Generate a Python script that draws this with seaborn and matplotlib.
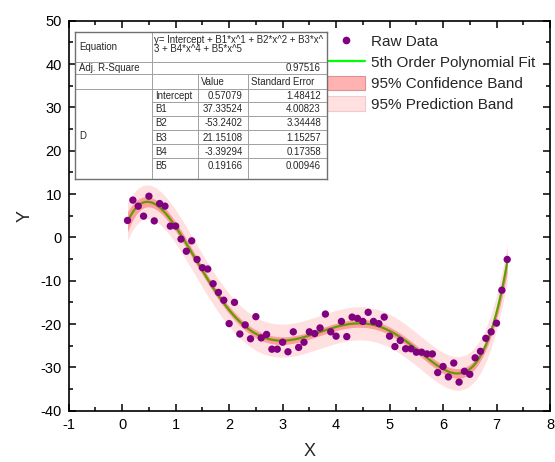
import numpy as np
import matplotlib
matplotlib.use("Agg")
import matplotlib.pyplot as plt
import seaborn as sns
from matplotlib.lines import Line2D
from matplotlib.patches import Patch
from matplotlib.ticker import MultipleLocator

x_raw = [0.1, 0.2, 0.3, 0.4, 0.5, 0.6, 0.7, 0.8, 0.9, 1.0,
         1.1, 1.2, 1.3, 1.4, 1.5, 1.6, 1.7, 1.8, 1.9, 2.0,
         2.1, 2.2, 2.3, 2.4, 2.5, 2.6, 2.7, 2.8, 2.9, 3.0,
         3.1, 3.2, 3.3, 3.4, 3.5, 3.6, 3.7, 3.8, 3.9, 4.0,
         4.1, 4.2, 4.3, 4.4, 4.5, 4.6, 4.7, 4.8, 4.9, 5.0,
         5.1, 5.2, 5.3, 5.4, 5.5, 5.6, 5.7, 5.8, 5.9, 6.0,
         6.1, 6.2, 6.3, 6.4, 6.5, 6.6, 6.7, 6.8, 6.9, 7.0,
         7.1, 7.2]
y_raw = [3.9, 8.6, 7.2, 4.9, 9.5, 3.8, 7.8, 7.2, 2.6, 2.6,
         -0.4, -3.2, -0.8, -5.1, -7.0, -7.3, -10.7, -12.7, -14.5, -19.9,
         -15.0, -22.3, -20.2, -23.4, -18.3, -23.2, -22.4, -25.8, -25.8, -24.2,
         -26.4, -21.8, -25.4, -24.2, -21.8, -22.2, -20.9, -17.7, -21.8, -22.8,
         -19.4, -22.9, -18.4, -18.7, -19.4, -17.3, -19.4, -19.9, -18.4, -22.8,
         -25.2, -23.8, -25.7, -25.7, -26.5, -26.5, -26.9, -26.9, -31.2, -29.8,
         -32.2, -29.0, -33.4, -30.9, -31.6, -27.8, -26.3, -23.3, -21.8, -19.8,
         -12.2, -5.1]

# text of the fit report table, as shown
param_names = ["Intercept", "B1", "B2", "B3", "B4", "B5"]
param_values = ["0.57079", "37.33524", "-53.2402", "21.15108", "-3.39294", "0.19166"]
param_errors = ["1.48412", "4.00823", "3.34448", "1.15257", "0.17358", "0.00946"]
equation_text = "y= Intercept + B1*x^1 + B2*x^2 + B3*x^\n3 + B4*x^4 + B5*x^5"
adj_r2_text = "0.97516"

legend_labels = ["Raw Data", "5th Order Polynomial Fit",
                 "95% Confidence Band", "95% Prediction Band"]

# polynomial fit + bands
x = np.array(x_raw)
y = np.array(y_raw)
deg = 5
X = np.vander(x, deg + 1, increasing=True)
beta, *_ = np.linalg.lstsq(X, y, rcond=None)
resid = y - X @ beta
dof = len(x) - (deg + 1)
s2 = resid @ resid / dof
cov = s2 * np.linalg.inv(X.T @ X)
t975 = 1.9966  # t quantile, 66 dof

xx = np.linspace(x.min(), x.max(), 400)
XX = np.vander(xx, deg + 1, increasing=True)
yy = XX @ beta
se_fit = np.sqrt(np.einsum("ij,jk,ik->i", XX, cov, XX))
conf = t975 * se_fit
pred = t975 * np.sqrt(se_fit ** 2 + s2)

sns.set_theme(style="ticks")
plt.rcParams["font.family"] = ["Liberation Sans", "DejaVu Sans"]
plt.rcParams["axes.unicode_minus"] = False
plt.rcParams["xtick.direction"] = "in"
plt.rcParams["ytick.direction"] = "in"

fig = plt.figure(figsize=(5.55, 4.62), dpi=100)
ax = fig.add_axes([68.7 / 555, 1 - 410.7 / 462, (550 - 68.7) / 555, (410.7 - 20.7) / 462])

sns.lineplot(x=xx, y=yy, color="#00ff00", linewidth=1.6, ax=ax, zorder=2)
ax.fill_between(xx, yy - pred, yy + pred, color="red", alpha=0.12, linewidth=0, zorder=3)
ax.fill_between(xx, yy - conf, yy + conf, color="red", alpha=0.30, linewidth=0, zorder=4)
sns.scatterplot(x=x, y=y, color="#800080", s=28, edgecolor="none", ax=ax, zorder=5)

ax.set_xlim(-1, 8)
ax.set_ylim(-40, 50)
ax.xaxis.set_major_locator(MultipleLocator(1))
ax.xaxis.set_minor_locator(MultipleLocator(0.5))
ax.yaxis.set_major_locator(MultipleLocator(10))
ax.yaxis.set_minor_locator(MultipleLocator(5))
ax.tick_params(which="both", top=True, right=True, direction="in", labelsize=10.5,
               colors="black", width=1.1)
ax.tick_params(which="major", length=5, pad=5)
ax.tick_params(which="minor", length=3)
for sp in ax.spines.values():
    sp.set_linewidth(1.2)
    sp.set_color("black")
ax.set_xlabel("X", fontsize=13, labelpad=8)
ax.set_ylabel("Y", fontsize=13, labelpad=5)

handles = [
    Line2D([], [], marker="o", linestyle="none", color="#800080", markersize=4.5),
    Line2D([], [], color="#00ff00", linewidth=1.6),
    Patch(facecolor=(1, 0, 0, 0.30), edgecolor="#e09090", linewidth=0.8),
    Patch(facecolor=(1, 0, 0, 0.12), edgecolor="#f4c8c8", linewidth=0.8),
]
fig.legend(handles, legend_labels, loc="upper left",
           bbox_to_anchor=(327 / 555, 1 - 34 / 462), frameon=False, fontsize=11,
           handlelength=2.5, handleheight=1.05, handletextpad=0.4, labelspacing=0.36,
           borderpad=0, borderaxespad=0)

# fit report table (pixel coordinates inside its own axes)
L, R, T, B = 75, 327, 31.7, 179.3
tab = fig.add_axes([L / 555, 1 - B / 462, (R - L) / 555, (B - T) / 462])
tab.set_xlim(L, R)
tab.set_ylim(B, T)
tab.set_xticks([])
tab.set_yticks([])
tab.set_facecolor("white")
tab.set_zorder(10)
for sp in tab.spines.values():
    sp.set_color("#707070")
    sp.set_linewidth(1.0)

c1, c2, c3 = 151.7, 198.3, 247.7
grid_kw = dict(color="#a0a0a0", linewidth=0.7)
tab.plot([L, R], [61.7, 61.7], **grid_kw)
tab.plot([L, R], [74.3, 74.3], **grid_kw)
tab.plot([L, R], [89.3, 89.3], **grid_kw)
row_lines = [102.3, 116.0, 130.0, 144.3, 158.3]
for yl in row_lines:
    tab.plot([c1, R], [yl, yl], **grid_kw)
tab.plot([c1, c1], [T, B], **grid_kw)
tab.plot([c2, c2], [74.3, B], **grid_kw)
tab.plot([c3, c3], [74.3, B], **grid_kw)

fs = 6.9
tab.text(79, 46.7, "Equation", fontsize=fs, va="center", ha="left")
tab.text(154.5, 44.5, equation_text, fontsize=fs, va="center", ha="left", linespacing=0.95)
tab.text(79, 68.0, "Adj. R-Square", fontsize=fs, va="center", ha="left")
tab.text(321, 68.0, adj_r2_text, fontsize=fs, va="center", ha="right")
tab.text(201.3, 81.7, "Value", fontsize=fs, va="center", ha="left")
tab.text(251, 81.7, "Standard Error", fontsize=fs, va="center", ha="left")
tab.text(79, 136, "D", fontsize=fs, va="center", ha="left")
row_y = [95.7, 109.3, 123.3, 137.7, 151.7, 165.7]
for yr, nm, val, err in zip(row_y, param_names, param_values, param_errors):
    tab.text(155, yr, nm, fontsize=fs, va="center", ha="left")
    tab.text(243, yr, val, fontsize=fs, va="center", ha="right")
    tab.text(321, yr, err, fontsize=fs, va="center", ha="right")

fig.savefig("out.png", dpi=100)
